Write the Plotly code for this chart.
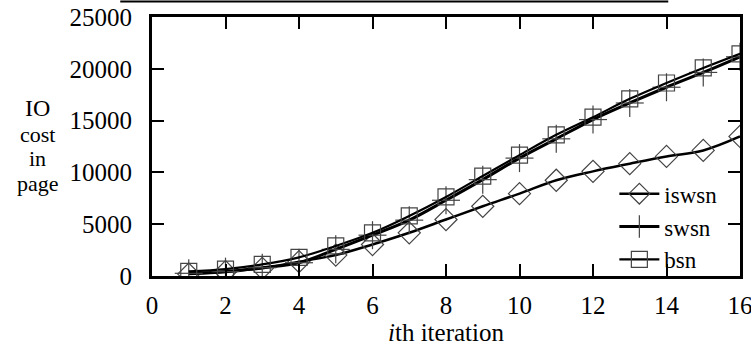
import plotly.graph_objects as go

iterations = list(range(1, 17))
iswsn = [190, 410, 740, 1380, 2020, 3040, 4170, 5450, 6730, 7950, 9240, 10100, 10840, 11540, 12120, 13470]
swsn = [260, 420, 800, 1280, 2570, 3940, 5390, 7310, 9300, 11380, 13240, 15100, 16700, 18220, 19650, 21160]
bsn = [450, 670, 1120, 1800, 2900, 4170, 5800, 7630, 9650, 11670, 13630, 15330, 17100, 18630, 20080, 21450]

x_ticks = [0, 2, 4, 6, 8, 10, 12, 14, 16]
y_ticks = [0, 5000, 10000, 15000, 20000, 25000]

FONT = "Liberation Serif, Times New Roman, serif"
mk_color = "#444444"

fig = go.Figure()
fig.add_trace(go.Scatter(
    x=iterations, y=iswsn, name="iswsn", mode="lines+markers",
    line=dict(color="black", width=2.5, shape="spline", smoothing=1),
    marker=dict(symbol="diamond-open", size=17, color=mk_color, line=dict(width=1.2, color=mk_color)),
))
fig.add_trace(go.Scatter(
    x=iterations, y=swsn, name="swsn", mode="lines+markers",
    line=dict(color="black", width=3, shape="spline", smoothing=1),
    marker=dict(symbol="line-ns-open", size=20, color=mk_color, line=dict(width=1.2, color=mk_color)),
))
fig.add_trace(go.Scatter(
    x=iterations, y=swsn, name="swsn", mode="markers", showlegend=False,
    marker=dict(symbol="line-ew-open", size=20, color=mk_color, line=dict(width=1.2, color=mk_color)),
))
fig.add_trace(go.Scatter(
    x=iterations, y=bsn, name="bsn", mode="lines+markers",
    line=dict(color="black", width=2.2, shape="spline", smoothing=1),
    marker=dict(symbol="square-open", size=16, color=mk_color, line=dict(width=1.2, color=mk_color)),
))

axis_common = dict(
    showline=True, linecolor="black", linewidth=3, mirror="ticks",
    ticks="inside", ticklen=12, tickwidth=2, tickcolor="black",
    showgrid=False, zeroline=False, automargin=False,
    ticklabeloverflow="allow",
    tickfont=dict(family=FONT, size=25, color="black"),
)

fig.update_xaxes(range=[0, 16], tickvals=x_ticks, ticktext=[str(v) for v in x_ticks],
                 ticklabelstandoff=5,
                 title=dict(text="<i>i</i>th iteration", font=dict(family=FONT, size=25, color="black"), standoff=3),
                 **axis_common)
fig.update_yaxes(range=[0, 25000], tickvals=y_ticks, ticktext=[str(v) for v in y_ticks],
                 ticklabelstandoff=12, **axis_common)

ylab = [("IO", 0.65, 24), ("cost", 0.548, 22), ("in", 0.452, 22), ("page", 0.356, 22)]
for txt, yy, fs in ylab:
    fig.add_annotation(text=txt, xref="paper", yref="paper", x=-0.194, y=yy,
                       xanchor="center", yanchor="middle", showarrow=False,
                       font=dict(family=FONT, size=fs, color="black"))

fig.add_shape(type="line", xref="paper", yref="paper", x0=-0.054, x1=0.878, y0=1.060, y1=1.060,
              line=dict(color="black", width=2))

fig.update_layout(
    width=751, height=351,
    margin=dict(l=152, r=11, t=17, b=75, autoexpand=False),
    paper_bgcolor="white", plot_bgcolor="white",
    font=dict(family=FONT, size=24, color="black"),
    legend=dict(x=0.97, y=-0.02, xanchor="right", yanchor="bottom",
                bgcolor="rgba(0,0,0,0)", font=dict(family=FONT, size=23),
                tracegroupgap=0, itemwidth=40),
)

fig.write_html(
    "out.html",
    config={"displayModeBar": False},
    post_script="document.body.style.margin='0';document.body.style.overflow='hidden';",
)
